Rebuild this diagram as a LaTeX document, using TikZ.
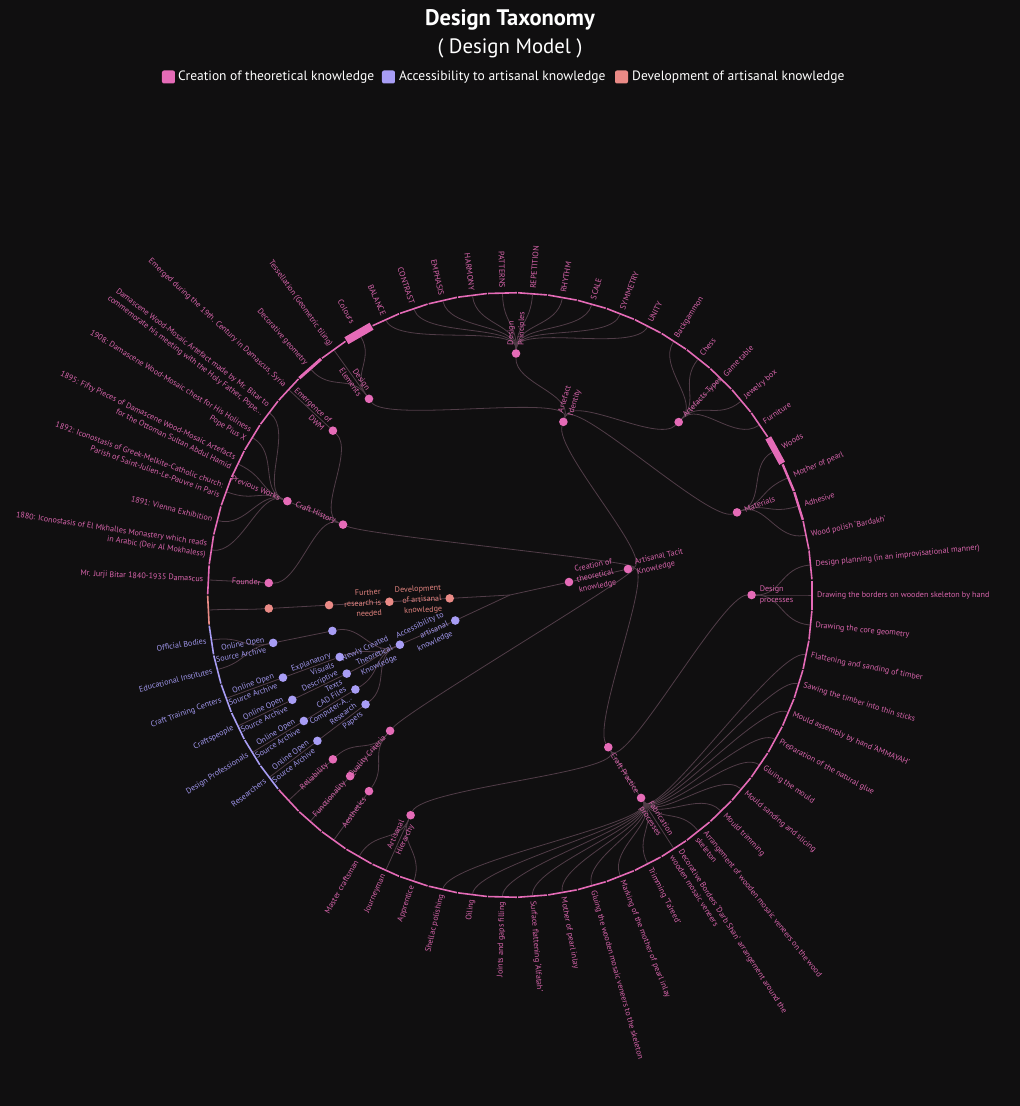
\documentclass[tikz,border=0pt]{standalone}
\usepackage{fontspec}
\setmainfont{PT Sans}
\definecolor{bg}{HTML}{100F10}
\definecolor{pk}{HTML}{E56BB7}
\definecolor{pkt}{HTML}{D864AC}
\definecolor{pu}{HTML}{A89DF5}
\definecolor{put}{HTML}{A096EC}
\definecolor{sa}{HTML}{EA8A86}
\definecolor{sat}{HTML}{E0827E}
\definecolor{edgec}{HTML}{513D48}
\pgfdeclarelayer{bgl}
\pgfdeclarelayer{edges}
\pgfsetlayers{bgl,edges,main}
\newcommand\setnode[3]{\expandafter\xdef\csname nA#1\endcsname{#2}\expandafter\xdef\csname nR#1\endcsname{#3}}
\newcommand\lnk[2]{%
  \edef\tmpA{\csname nA#1\endcsname}\edef\tmpB{\csname nA#2\endcsname}%
  \pgfmathsetmacro\tmpR{(\csname nR#1\endcsname+\csname nR#2\endcsname)/2}%
  \draw[edge] (#1) .. controls (\tmpA:\tmpR) and (\tmpB:\tmpR) .. (#2);}
\newcommand\tn[4]{\setnode{#1}{#2}{#3}\node[dot,fill=#4] (#1) at (#2:#3) {};}
\newcommand\labR[4]{%
  \edef\tmpA{\csname nA#1\endcsname}%
  \pgfmathsetmacro\tmpO{\csname nR#1\endcsname+#4}%
  \node[lab,text=#2,rotate=\tmpA,anchor=west,align=left] (t#1) at (\tmpA:\tmpO) {#3};}
\newcommand\labL[4]{%
  \edef\tmpA{\csname nA#1\endcsname}%
  \pgfmathsetmacro\tmpO{\csname nR#1\endcsname+#4}%
  \pgfmathsetmacro\tmpRot{\tmpA-180}%
  \node[lab,text=#2,rotate=\tmpRot,anchor=east,align=right] (t#1) at (\tmpA:\tmpO) {#3};}
\begin{document}
\begin{tikzpicture}[x=1pt,y=1pt,
  edge/.style={draw=edgec,line width=0.8pt},
  dot/.style={circle,inner sep=0pt,minimum size=8.6pt,draw=none},
  bar/.style={rectangle,inner sep=0pt,minimum width=29pt,draw=none},
  lab/.style={font=\fontsize{8.1}{10.5}\selectfont,inner sep=0pt},
  legbox/.style={rectangle,rounded corners=2pt,minimum width=13pt,minimum height=13pt,inner sep=0pt}]
\useasboundingbox (-510,-511) rectangle (510,595);
\begin{pgfonlayer}{bgl}
\fill[bg] (-510,-511) rectangle (510,595);
\end{pgfonlayer}
% title and legend
\node[text=white,font=\bfseries\fontsize{22.5}{26}\selectfont] (title) at (0,575) {Design Taxonomy};
\node[text=white,font=\fontsize{20.8}{24}\selectfont] (subtitle) at (0,547) {( Design Model )};
\node[legbox,fill=pk] (lg1) at (-341.5,518) {};
\node[text=white,anchor=west,inner sep=0pt,font=\fontsize{13.5}{16}\selectfont] (lt1) at (-332,518) {Creation of theoretical knowledge};
\node[legbox,fill=pu] (lg2) at (-121.5,518) {};
\node[text=white,anchor=west,inner sep=0pt,font=\fontsize{13.5}{16}\selectfont] (lt2) at (-111,518) {Accessibility to artisanal knowledge};
\node[legbox,fill=sa] (lg3) at (111.5,518) {};
\node[text=white,anchor=west,inner sep=0pt,font=\fontsize{13.5}{16}\selectfont] (lt3) at (122,518) {Development of artisanal knowledge};
% leaves (ring segments)
\foreach \k in {0,...,62}{
  \pgfmathsetmacro\a{\k*5.7142857}
  \def\c{pk}\def\w{1.6}
  \ifnum\k=32 \def\c{sa}\fi
  \ifnum\k>32 \ifnum\k<39 \def\c{pu}\fi\fi
  \ifnum\k=3 \def\w{2.4}\fi
  \ifnum\k=4 \def\w{2.4}\fi
  \ifnum\k=5 \def\w{6.5}\fi
  \ifnum\k=21 \def\w{8}\fi
  \ifnum\k=23 \def\w{3}\fi
  \setnode{l\k}{\a}{302}
  \node[bar,fill=\c,minimum height=\w pt,rotate=\a+90] (l\k) at (\a:302) {};
}
% internal nodes
\coordinate (root) at (0,0);
\tn{cre}{12.4}{60.4}{pk}
\tn{art}{12.4}{120.8}{pk}
\tn{dev}{183.2}{60.4}{sa}
\tn{fur}{183.2}{120.8}{sa}
\tn{dvc}{183.2}{181.2}{sa}
\tn{dvd}{183.2}{241.6}{sa}
\tn{acc}{205}{60.4}{pu}
\tn{nct}{204.29}{120.8}{pu}
\tn{aca}{191.43}{181.2}{pu}
\tn{exv}{200}{181.2}{pu}
\tn{dst}{205.71}{181.2}{pu}
\tn{cad}{211.43}{181.2}{pu}
\tn{rsp}{217.14}{181.2}{pu}
\tn{ooa}{191.43}{241.6}{pu}
\tn{oob}{200}{241.6}{pu}
\tn{ooc}{205.71}{241.6}{pu}
\tn{ood}{211.43}{241.6}{pu}
\tn{ooe}{217.14}{241.6}{pu}
\tn{aid}{72.86}{181.2}{pk}
\tn{del}{125.71}{241.6}{pk}
\tn{dpr}{88.57}{241.6}{pk}
\tn{aty}{45.71}{241.6}{pk}
\tn{mat}{20}{241.6}{pk}
\tn{chi}{157.14}{181.2}{pk}
\tn{emg}{137.14}{241.6}{pk}
\tn{pvw}{157.14}{241.6}{pk}
\tn{fnd}{177.14}{241.6}{pk}
\tn{qcr}{228.57}{181.2}{pk}
\tn{rel}{222.86}{241.6}{pk}
\tn{fun}{228.57}{241.6}{pk}
\tn{aes}{234.29}{241.6}{pk}
\tn{cpr}{302.86}{181.2}{pk}
\tn{ahr}{245.71}{241.6}{pk}
\tn{fab}{302.86}{241.6}{pk}
\tn{dpc}{0}{241.6}{pk}
% edges
\begin{pgfonlayer}{edges}
\draw[edge] (root) -- (cre);
\draw[edge] (root) -- (dev);
\draw[edge] (root) -- (acc);
\lnk{cre}{art}
\lnk{art}{aid}\lnk{art}{chi}\lnk{art}{qcr}\lnk{art}{cpr}
\lnk{aid}{del}\lnk{aid}{dpr}\lnk{aid}{aty}\lnk{aid}{mat}
\foreach \k in {21,22,23}{\lnk{del}{l\k}}
\foreach \k in {11,...,20}{\lnk{dpr}{l\k}}
\foreach \k in {6,...,10}{\lnk{aty}{l\k}}
\foreach \k in {2,...,5}{\lnk{mat}{l\k}}
\lnk{chi}{emg}\lnk{chi}{pvw}\lnk{chi}{fnd}
\lnk{emg}{l24}
\foreach \k in {25,...,30}{\lnk{pvw}{l\k}}
\lnk{fnd}{l31}
\lnk{qcr}{rel}\lnk{qcr}{fun}\lnk{qcr}{aes}
\lnk{rel}{l39}\lnk{fun}{l40}\lnk{aes}{l41}
\lnk{cpr}{ahr}\lnk{cpr}{fab}\lnk{cpr}{dpc}
\foreach \k in {42,43,44}{\lnk{ahr}{l\k}}
\foreach \k in {45,...,61}{\lnk{fab}{l\k}}
\lnk{dpc}{l62}\lnk{dpc}{l0}\lnk{dpc}{l1}
\lnk{dev}{fur}\lnk{fur}{dvc}\lnk{dvc}{dvd}\lnk{dvd}{l32}
\lnk{acc}{nct}
\lnk{nct}{aca}\lnk{nct}{exv}\lnk{nct}{dst}\lnk{nct}{cad}\lnk{nct}{rsp}
\lnk{aca}{ooa}\lnk{exv}{oob}\lnk{dst}{ooc}\lnk{cad}{ood}\lnk{rsp}{ooe}
\lnk{ooa}{l33}\lnk{ooa}{l34}\lnk{oob}{l35}\lnk{ooc}{l36}\lnk{ood}{l37}\lnk{ooe}{l38}
\end{pgfonlayer}
% internal labels
\labR{cre}{pkt}{Creation of\\theoretical\\knowledge}{8}
\labR{art}{pkt}{Artisanal Tacit\\Knowledge}{8}
\labL{dev}{sat}{Development\\of artisanal\\knowledge}{8}
\labL{fur}{sat}{Further\\research is\\needed}{8}
\labL{acc}{put}{Accessibility to\\artisanal\\knowledge}{8}
\labL{nct}{put}{Newly Created\\Theoretical\\Knowledge}{8}
\labL{exv}{put}{Explanatory\\Visuals}{8}
\labL{dst}{put}{Descriptive\\Texts}{8}
\labL{cad}{put}{CAD Files\\Computer-A...}{8}
\labL{rsp}{put}{Research\\Papers}{8}
\labL{ooa}{put}{Online Open\\Source Archive}{8}
\labL{oob}{put}{Online Open\\Source Archive}{8}
\labL{ooc}{put}{Online Open\\Source Archive}{8}
\labL{ood}{put}{Online Open\\Source Archive}{8}
\labL{ooe}{put}{Online Open\\Source Archive}{8}
\labR{aid}{pkt}{Artefact\\Identity}{8}
\labL{del}{pkt}{Design\\Elements}{8}
\labR{dpr}{pkt}{Design\\Principles}{8}
\labR{aty}{pkt}{Artefacts Types}{8}
\labR{mat}{pkt}{Materials}{8}
\labL{chi}{pkt}{Craft History}{8}
\labL{emg}{pkt}{Emergence of\\DWM}{8}
\labL{pvw}{pkt}{Previous Works}{8}
\labL{fnd}{pkt}{Founder}{8}
\labL{qcr}{pkt}{Quality Criteria}{8}
\labL{rel}{pkt}{Reliability}{8}
\labL{fun}{pkt}{Functionality}{8}
\labL{aes}{pkt}{Aesthetics}{8}
\labR{cpr}{pkt}{Craft Practice}{8}
\labL{ahr}{pkt}{Artisanal\\Hierarchy}{8}
\labR{fab}{pkt}{Fabrication\\processes}{8}
\labR{dpc}{pkt}{Design\\processes}{8}
% leaf labels
\labR{l0}{pkt}{Drawing the borders on wooden skeleton by hand}{5}
\labR{l1}{pkt}{Design planning (in an improvisational manner)}{5}
\labR{l2}{pkt}{Wood polish `Bardakh'}{5}
\labR{l3}{pkt}{Adhesive}{6}
\labR{l4}{pkt}{Mother of pearl}{6}
\labR{l5}{pkt}{Woods}{8}
\labR{l6}{pkt}{Furniture}{5}
\labR{l7}{pkt}{Jewelry box}{5}
\labR{l8}{pkt}{Game table}{5}
\labR{l9}{pkt}{Chess}{5}
\labR{l10}{pkt}{Backgammon}{5}
\labR{l11}{pkt}{UNITY}{5}
\labR{l12}{pkt}{SYMMETRY}{5}
\labR{l13}{pkt}{SCALE}{5}
\labR{l14}{pkt}{RHYTHM}{5}
\labR{l15}{pkt}{REPETITION}{5}
\labL{l16}{pkt}{PATTERNS}{5}
\labL{l17}{pkt}{HARMONY}{5}
\labL{l18}{pkt}{EMPHASIS}{5}
\labL{l19}{pkt}{CONTRAST}{5}
\labL{l20}{pkt}{BALANCE}{5}
\labL{l21}{pkt}{Colours}{12}
\labL{l22}{pkt}{Tessellation (Geometric tiling)}{5}
\labL{l23}{pkt}{Decorative geometry}{6}
\labL{l24}{pkt}{Emerged during the 19th. Century in Damascus, Syria}{5}
\labL{l25}{pkt}{Damascene Wood-Mosaic Artefact made by Mr. Bitar to\\commemorate his meeting with the Holy Father, Pope...}{5}
\labL{l26}{pkt}{1908: Damascene Wood-Mosaic chest for His Holiness\\Pope Pius X}{5}
\labL{l27}{pkt}{1895: Fifty Pieces of Damascene Wood-Mosaic Artefacts\\for the Ottoman Sultan Abdul Hamid}{5}
\labL{l28}{pkt}{1892: Iconostasis of Greek-Melkite-Catholic church:\\Parish of Saint-Julien-Le-Pauvre in Paris}{5}
\labL{l29}{pkt}{1891: Vienna Exhibition}{5}
\labL{l30}{pkt}{1880: Iconostasis of El Mkhalles Monastery which reads\\in Arabic (Deir Al Mokhaless)}{5}
\labL{l31}{pkt}{Mr. Jurji Bitar 1840-1935 Damascus}{5}
\labL{l33}{put}{Official Bodies}{5}
\labL{l34}{put}{Educational Institutes}{5}
\labL{l35}{put}{Craft Training Centers}{5}
\labL{l36}{put}{Craftspeople}{5}
\labL{l37}{put}{Design Professionals}{5}
\labL{l38}{put}{Researchers}{5}
\labL{l42}{pkt}{Master craftsman}{5}
\labL{l43}{pkt}{Journeyman}{5}
\labL{l44}{pkt}{Apprentice}{5}
\labL{l45}{pkt}{Shellac polishing}{5}
\labL{l46}{pkt}{Oiling}{5}
\labL{l47}{pkt}{Joints and gaps filling}{5}
\labR{l48}{pkt}{Surface flattening `Alfatah'}{5}
\labR{l49}{pkt}{Mother of pearl inlay}{5}
\labR{l50}{pkt}{Gluing the wooden mosaic veneers to the skeleton}{5}
\labR{l51}{pkt}{Marking of the mother of pearl inlay}{5}
\labR{l52}{pkt}{Trimming `Ta'reed'}{5}
\labR{l53}{pkt}{Decorative Borders `Darb Shan' arrangement around the\\wooden mosaic veneers}{5}
\labR{l54}{pkt}{Arrangement of wooden mosaic veneers on the wood\\skeleton}{5}
\labR{l55}{pkt}{Mould trimming}{5}
\labR{l56}{pkt}{Mould sanding and slicing}{5}
\labR{l57}{pkt}{Gluing the mould}{5}
\labR{l58}{pkt}{Preparation of the natural glue}{5}
\labR{l59}{pkt}{Mould assembly by hand `AMMAYAH'}{5}
\labR{l60}{pkt}{Sawing the timber into thin sticks}{5}
\labR{l61}{pkt}{Flattening and sanding of timber}{5}
\labR{l62}{pkt}{Drawing the core geometry}{5}
\end{tikzpicture}
\end{document}
